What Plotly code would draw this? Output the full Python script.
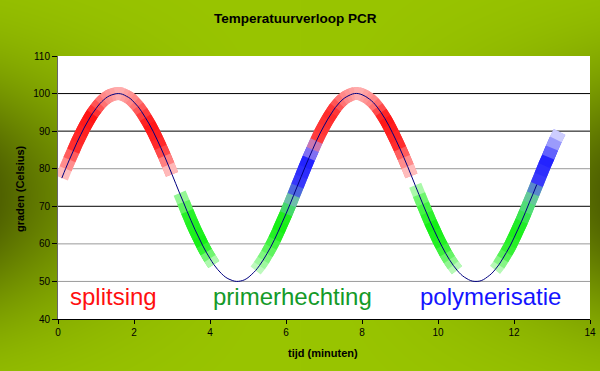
import zlib, struct, base64
import numpy as np
import plotly.graph_objects as go

# ---------------- data ----------------
time_min = [round(0.1 * i, 1) for i in range(0, 133)]   # 0.0 .. 13.2 minutes, sample times
temp_c = [75.0, 77.5, 80.0, 82.4, 84.7, 87.0, 89.1, 91.1, 92.9, 94.6,
          96.0, 97.3, 98.3, 99.1, 99.6, 99.9, 100.0, 99.8, 99.3, 98.7,
          97.7, 96.6, 95.2, 93.6, 91.9, 90.0, 87.9, 85.7, 83.4, 81.0,
          78.5, 76.0, 73.5, 71.1, 68.6, 66.2, 63.9, 61.8, 59.7, 57.8,
          56.1, 54.5, 53.2, 52.1, 51.2, 50.6, 50.2, 50.0, 50.1, 50.4,
          51.0, 51.9, 52.9, 54.2, 55.7, 57.4, 59.2, 61.2, 63.4, 65.7,
          68.0, 70.4, 72.9, 75.4, 77.9, 80.4, 82.8, 85.1, 87.4, 89.5,
          91.4, 93.2, 94.8, 96.3, 97.5, 98.5, 99.2, 99.7, 100.0, 100.0,
          99.7, 99.2, 98.5, 97.6, 96.4, 95.0, 93.4, 91.6, 89.6, 87.5,
          85.3, 83.0, 80.6, 78.1, 75.6, 73.1, 70.6, 68.2, 65.8, 63.6,
          61.4, 59.4, 57.5, 55.8, 54.3, 53.0, 51.9, 51.1, 50.5, 50.1,
          50.0, 50.1, 50.5, 51.2, 52.0, 53.1, 54.4, 56.0, 57.7, 59.5,
          61.6, 63.8, 66.0, 68.4, 70.9, 73.3, 75.8, 78.3, 80.8, 83.1,
          85.5, 87.8, 89.8]

curve_range = (0.1, 12.6)              # navy temperature line
phase_runs = [(0.1, 3.0), (3.2, 4.1), (5.2, 9.3), (9.4, 10.5), (11.5, 13.2)]

phase_labels = ["splitsing", "primerhechting", "polymerisatie"]
label_time = [1.45, 6.18, 11.38]
label_temp = [46, 46, 46]

x_ticks = [0, 2, 4, 6, 8, 10, 12, 14]
y_ticks = [40, 50, 60, 70, 80, 90, 100, 110]
grid_dark = [70, 90, 100]
grid_light = [50, 60, 80]

# ---------------- styles ----------------
RED_S, RED_M, RED_L, RED_E = (255, 20, 20), (255, 130, 130), (255, 178, 178), (255, 212, 212)
GRN_S, GRN_L, GRN_E = (20, 240, 20), (110, 245, 110), (205, 250, 205)
BLU_S, TEAL, LAV = (35, 35, 255), (110, 190, 170), (175, 150, 235)

run_colors = [
    [(0.1, RED_E), (0.45, (255, 45, 45)), (0.85, RED_S), (1.2, RED_M), (1.6, RED_L),
     (2.0, RED_M), (2.4, RED_S), (2.7, (255, 45, 45)), (3.0, RED_E)],
    [(3.2, (175, 248, 175)), (3.45, (40, 242, 40)), (3.8, GRN_S), (4.1, GRN_E)],
    [(5.2, GRN_E), (5.5, GRN_L), (5.8, GRN_S), (5.95, (30, 238, 30)), (6.05, (70, 215, 110)),
     (6.15, TEAL), (6.3, (60, 60, 250)), (6.55, BLU_S), (6.7, LAV), (6.85, (255, 60, 60)),
     (7.2, (255, 40, 40)), (7.5, RED_M), (7.9, RED_L), (8.3, RED_M), (8.6, RED_S),
     (8.95, (255, 45, 45)), (9.3, RED_E)],
    [(9.4, (200, 250, 200)), (9.6, (80, 245, 80)), (9.85, GRN_S), (10.1, (40, 240, 40)), (10.5, GRN_E)],
    [(11.5, GRN_E), (11.8, (60, 240, 60)), (12.1, GRN_S), (12.35, (80, 220, 120)), (12.5, TEAL),
     (12.62, (60, 60, 250)), (12.85, BLU_S), (13.0, (130, 130, 250)), (13.2, (230, 230, 255))],
]

FONT = "Arial, 'Liberation Sans', sans-serif"
W, H = 600, 371
ML, MR, MT, MB = 58, 10, 56, 52


def color_at(t, stops):
    if t <= stops[0][0]:
        c = stops[0][1]
    elif t >= stops[-1][0]:
        c = stops[-1][1]
    else:
        for (t0, c0), (t1, c1) in zip(stops[:-1], stops[1:]):
            if t0 <= t <= t1:
                f = (t - t0) / (t1 - t0)
                c = tuple(a + (b - a) * f for a, b in zip(c0, c1))
                break
    return "rgb(%d,%d,%d)" % tuple(int(round(v)) for v in c)


def png_data_uri(arr):
    h, w, _ = arr.shape
    raw = b"".join(b"\x00" + arr[r].tobytes() for r in range(h))

    def chunk(tag, data):
        c = struct.pack(">I", len(data)) + tag + data
        return c + struct.pack(">I", zlib.crc32(tag + data) & 0xffffffff)

    png = (b"\x89PNG\r\n\x1a\n"
           + chunk(b"IHDR", struct.pack(">IIBBBBB", w, h, 8, 2, 0, 0, 0))
           + chunk(b"IDAT", zlib.compress(raw, 9))
           + chunk(b"IEND", b""))
    return "data:image/png;base64," + base64.b64encode(png).decode()


# background gradient (bright yellow-green, darker olive at the side edges)
yy, xx = np.mgrid[0:H, 0:W].astype(float)
fx = (np.abs(xx - W / 2) / (W / 2)) ** 2
fy = np.exp(-((yy - 195) / 120) ** 2)
d = (fx * fy)[..., None]
bright = np.array([153, 197, 0], float)
dark = np.array([80, 98, 0], float)
bg = (bright * (1 - d) + dark * d).clip(0, 255).astype(np.uint8)
bg_uri = png_data_uri(bg)

fig = go.Figure()

t_arr = np.array(time_min)
v_arr = np.array(temp_c)

# coloured thick bands
for (t0, t1), stops in zip(phase_runs, run_colors):
    idx = np.where((t_arr >= t0 - 1e-9) & (t_arr <= t1 + 1e-9))[0]
    for k in range(len(idx) - 1):
        sel = idx[k:k + 3]
        tm = 0.5 * (t_arr[idx[k]] + t_arr[idx[k + 1]])
        fig.add_trace(go.Scatter(
            x=t_arr[sel], y=v_arr[sel], mode="lines",
            line=dict(color=color_at(tm, stops), width=13, shape="spline"),
            hoverinfo="skip", showlegend=False))

# temperature curve
m = (t_arr >= curve_range[0] - 1e-9) & (t_arr <= curve_range[1] + 1e-9)
fig.add_trace(go.Scatter(x=t_arr[m], y=v_arr[m], mode="lines",
                         line=dict(color="#000080", width=1, shape="spline"),
                         showlegend=False))

shapes = [dict(type="rect", xref="paper", yref="paper", x0=0, x1=1, y0=0, y1=1,
               fillcolor="white", line=dict(width=0), layer="below")]
for g in grid_dark:
    shapes.append(dict(type="line", xref="paper", yref="y", x0=0, x1=1, y0=g, y1=g,
                       line=dict(color="#000000", width=1), layer="below"))
for g in grid_light:
    shapes.append(dict(type="line", xref="paper", yref="y", x0=0, x1=1, y0=g, y1=g,
                       line=dict(color="#9a9a9a", width=1), layer="below"))

pw, ph = W - ML - MR, H - MT - MB

label_colors = ["#ff1010", "#149a28", "#1414ff"]
annotations = [dict(x=t, y=v, xref="x", yref="y", text=s, showarrow=False,
                    font=dict(family=FONT, size=24, color=c))
               for s, t, v, c in zip(phase_labels, label_time, label_temp, label_colors)]
annotations.append(dict(text="<b>tijd (minuten)</b>", xref="paper", yref="paper",
                        x=(322.5 - ML) / pw, y=-(353 - (H - MB)) / ph,
                        xanchor="center", yanchor="middle", showarrow=False,
                        font=dict(family=FONT, size=11, color="black")))
annotations.append(dict(text="<b>graden (Celsius)</b>", xref="paper", yref="paper",
                        x=(20 - ML) / pw, y=1 - (189 - MT) / ph, textangle=-90,
                        xanchor="center", yanchor="middle", showarrow=False,
                        font=dict(family=FONT, size=11, color="black")))
annotations.append(dict(text="<b>Temperatuurverloop PCR</b>", xref="paper", yref="paper",
                        x=(295 - ML) / pw, y=1 + (MT - 18) / ph,
                        xanchor="center", yanchor="middle", showarrow=False,
                        font=dict(family=FONT, size=13.5, color="black")))

fig.update_layout(
    width=W, height=H,
    margin=dict(l=ML, r=MR, t=MT, b=MB, pad=0, autoexpand=False),
    paper_bgcolor="#99c400", plot_bgcolor="white",
    font=dict(family=FONT, size=10, color="black"),
    xaxis=dict(range=[0, 14], tickvals=x_ticks, showgrid=False, zeroline=False,
               showline=True, linecolor="black", linewidth=1, ticks="outside",
               ticklen=4, tickcolor="black", tickfont=dict(size=10), automargin=False),
    yaxis=dict(range=[40, 110], tickvals=y_ticks, showgrid=False, zeroline=False,
               showline=True, linecolor="#666666", linewidth=1, ticks="outside",
               ticklen=5, tickcolor="black", tickfont=dict(size=10), automargin=False),
    images=[dict(source=bg_uri, xref="paper", yref="paper",
                 x=-ML / pw, y=1 + MT / ph, sizex=W / pw, sizey=H / ph,
                 xanchor="left", yanchor="top", sizing="stretch", layer="below")],
    shapes=shapes,
    annotations=annotations,
    hovermode=False,
)

fig.write_html("out.html", config={"displayModeBar": False, "staticPlot": True},
               post_script="document.body.style.margin='0';document.body.style.overflow='hidden';")
